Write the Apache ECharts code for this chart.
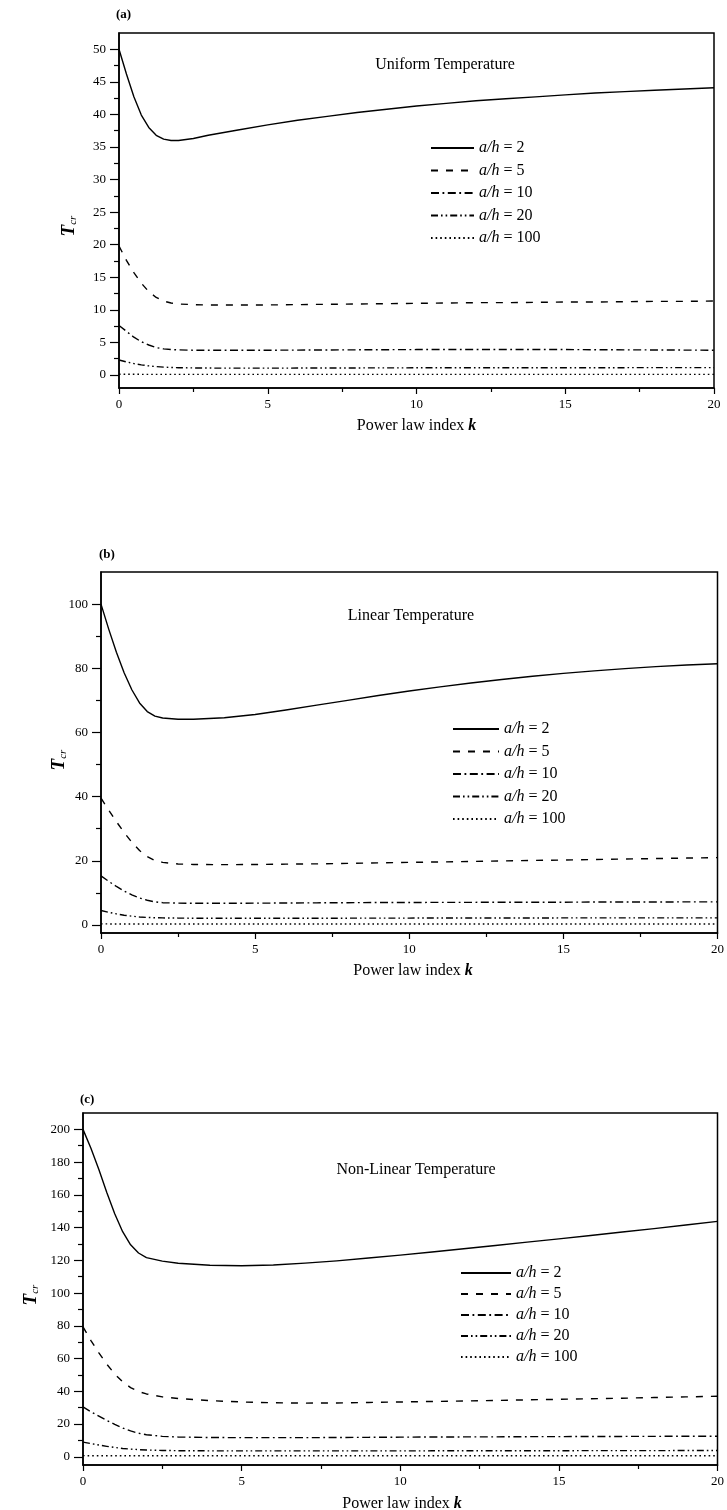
<!DOCTYPE html>
<html>
<head>
<meta charset="utf-8">
<script src="https://cdn.jsdelivr.net/npm/echarts@6/dist/echarts.min.js"></script>
<style>
html,body{margin:0;padding:0;background:#fff;}
#chart{width:727px;height:1510px;}
</style>
</head>
<body>
<div id="chart"></div>
<script>
// ---------------- DATA ----------------
const K = [0, 0.25, 0.5, 0.75, 1, 1.25, 1.5, 1.75, 2, 2.5, 3, 4, 5, 6, 7, 8, 9, 10, 11, 12, 13, 14, 15, 16, 17, 18, 19, 20];
const seriesNames = ['a/h = 2', 'a/h = 5', 'a/h = 10', 'a/h = 20', 'a/h = 100'];
const panelLabels = ['(a)', '(b)', '(c)'];
const panelTitles = ['Uniform Temperature', 'Linear Temperature', 'Non-Linear Temperature'];
const xTicks = [0, 5, 10, 15, 20];
const yTicksA = [0, 5, 10, 15, 20, 25, 30, 35, 40, 45, 50];
const yTicksB = [0, 20, 40, 60, 80, 100];
const yTicksC = [0, 20, 40, 60, 80, 100, 120, 140, 160, 180, 200];

// (a) Uniform temperature
const uni_ah2   = [50, 46.2, 42.7, 39.9, 38.0, 36.8, 36.2, 36.0, 36.0, 36.3, 36.8, 37.6, 38.4, 39.1, 39.7, 40.3, 40.8, 41.3, 41.7, 42.1, 42.4, 42.7, 43.0, 43.3, 43.5, 43.7, 43.9, 44.1];
const uni_ah5   = [19.8, 17.6, 15.7, 14.1, 12.8, 11.9, 11.35, 11.05, 10.9, 10.8, 10.75, 10.75, 10.75, 10.8, 10.85, 10.9, 10.95, 11.0, 11.05, 11.1, 11.1, 11.15, 11.2, 11.2, 11.25, 11.3, 11.3, 11.35];
const uni_ah10  = [7.6, 6.7, 5.8, 5.1, 4.6, 4.2, 4.0, 3.9, 3.85, 3.8, 3.8, 3.8, 3.8, 3.82, 3.84, 3.86, 3.88, 3.9, 3.9, 3.9, 3.9, 3.9, 3.9, 3.88, 3.86, 3.84, 3.82, 3.8];
const uni_ah20  = [2.3, 2.0, 1.75, 1.55, 1.4, 1.28, 1.2, 1.15, 1.12, 1.08, 1.06, 1.05, 1.05, 1.06, 1.07, 1.08, 1.09, 1.1, 1.1, 1.1, 1.11, 1.11, 1.12, 1.12, 1.12, 1.13, 1.13, 1.13];
const uni_ah100 = [0.12, 0.11, 0.1, 0.1, 0.09, 0.09, 0.09, 0.09, 0.09, 0.09, 0.09, 0.09, 0.09, 0.09, 0.09, 0.09, 0.09, 0.09, 0.09, 0.09, 0.09, 0.09, 0.09, 0.09, 0.09, 0.09, 0.09, 0.09];

// (b) Linear temperature
const lin_ah2   = [100, 92.2, 85.0, 78.6, 73.3, 69.2, 66.5, 65.1, 64.5, 64.1, 64.1, 64.6, 65.6, 67.0, 68.5, 70.0, 71.5, 72.9, 74.2, 75.4, 76.5, 77.5, 78.4, 79.2, 79.9, 80.5, 81.0, 81.4];
const lin_ah5   = [39.5, 35.8, 32.2, 28.8, 25.8, 23.2, 21.3, 20.1, 19.5, 19.0, 18.85, 18.8, 18.85, 18.95, 19.05, 19.2, 19.35, 19.5, 19.65, 19.8, 19.95, 20.1, 20.25, 20.4, 20.55, 20.7, 20.85, 21.0];
const lin_ah10  = [15.3, 13.6, 12.0, 10.6, 9.4, 8.4, 7.7, 7.2, 6.95, 6.8, 6.75, 6.75, 6.8, 6.85, 6.9, 6.95, 7.0, 7.0, 7.05, 7.05, 7.1, 7.1, 7.1, 7.15, 7.15, 7.15, 7.2, 7.2];
const lin_ah20  = [4.5, 3.95, 3.45, 3.05, 2.75, 2.5, 2.35, 2.25, 2.2, 2.15, 2.1, 2.1, 2.1, 2.1, 2.1, 2.12, 2.14, 2.15, 2.16, 2.17, 2.18, 2.19, 2.2, 2.2, 2.2, 2.21, 2.22, 2.22];
const lin_ah100 = [0.35, 0.33, 0.32, 0.31, 0.3, 0.3, 0.3, 0.3, 0.3, 0.3, 0.3, 0.3, 0.3, 0.3, 0.3, 0.3, 0.3, 0.3, 0.3, 0.3, 0.3, 0.3, 0.3, 0.3, 0.3, 0.3, 0.3, 0.3];

// (c) Non-linear temperature
const non_ah2   = [200, 188.5, 175.5, 161.5, 148.5, 137.5, 129.5, 124.5, 121.7, 119.5, 118.2, 117.0, 116.7, 117.2, 118.3, 119.7, 121.4, 123.2, 125.1, 127.1, 129.1, 131.1, 133.1, 135.2, 137.3, 139.4, 141.6, 143.8];
const non_ah5   = [79.4, 71.0, 63.5, 56.6, 50.6, 45.8, 42.3, 39.9, 38.4, 36.6, 35.6, 34.3, 33.5, 33.0, 32.8, 32.9, 33.2, 33.5, 33.8, 34.1, 34.4, 34.8, 35.1, 35.5, 35.8, 36.2, 36.6, 37.0];
const non_ah10  = [30.5, 27.5, 24.8, 22.2, 19.8, 17.6, 15.8, 14.4, 13.5, 12.5, 12.1, 11.8, 11.7, 11.7, 11.7, 11.8, 11.9, 12.0, 12.1, 12.15, 12.2, 12.3, 12.35, 12.4, 12.45, 12.5, 12.55, 12.6];
const non_ah20  = [9.0, 8.1, 7.2, 6.4, 5.7, 5.1, 4.7, 4.4, 4.15, 3.9, 3.75, 3.65, 3.6, 3.6, 3.6, 3.6, 3.62, 3.64, 3.66, 3.68, 3.7, 3.72, 3.74, 3.76, 3.78, 3.8, 3.82, 3.85];
const non_ah100 = [0.7, 0.68, 0.66, 0.65, 0.64, 0.63, 0.63, 0.63, 0.63, 0.63, 0.63, 0.63, 0.63, 0.63, 0.63, 0.63, 0.63, 0.63, 0.63, 0.63, 0.63, 0.63, 0.63, 0.63, 0.63, 0.63, 0.63, 0.63];

const yRanges = [[-2, 52.5, 5], [-2.5, 110, 20], [-5, 210, 20]];
const yTicks = [yTicksA, yTicksB, yTicksC];
const panelValues = [
  [uni_ah2, uni_ah5, uni_ah10, uni_ah20, uni_ah100],
  [lin_ah2, lin_ah5, lin_ah10, lin_ah20, lin_ah100],
  [non_ah2, non_ah5, non_ah10, non_ah20, non_ah100]
];

// ---------------- STYLE / LAYOUT ----------------
const SERIF = "'Liberation Serif','Times New Roman',serif";
const dashes = ['solid', [7, 8], [8, 3.5, 1.8, 3.5], [7, 3, 1.6, 3, 1.6, 3], [1.6, 3]];
const grids = [
  {left: 119, top: 33, width: 595, height: 355},
  {left: 101, top: 572, width: 624, height: 361},
  {left: 83, top: 1113, width: 638, height: 352}
];
const legendPos = [
  {left: 425, top: 135, itemWidth: 43, step: 22.5},
  {left: 447, top: 716, itemWidth: 46, step: 22.5},
  {left: 455, top: 1260, itemWidth: 50, step: 21}
];
const textPos = [
  {lab: [116, 15], title: [445, 65], tcr: [68, 226], xt: 426},
  {lab: [99, 555], title: [411, 616], tcr: [58, 760], xt: 971},
  {lab: [80, 1100], title: [416, 1170], tcr: [30, 1295], xt: 1504}
];

const chart = echarts.init(document.getElementById('chart'), null, {renderer: 'canvas'});

const axisLineStyle = {color: '#000', width: 1.5};
const tickStyle = {color: '#000', width: 1.2};

const gridOpt = [], xAxes = [], yAxes = [], series = [], legends = [], graphics = [];

for (let p = 0; p < 3; p++) {
  const g = grids[p];
  gridOpt.push({left: g.left, top: g.top, width: g.width, height: g.height, show: true, borderColor: '#000', borderWidth: 1.5, containLabel: false});
  xAxes.push({
    type: 'value', gridIndex: p, min: xTicks[0], max: xTicks[xTicks.length - 1], interval: xTicks[1] - xTicks[0],
    axisLine: {show: true, onZero: false, lineStyle: axisLineStyle},
    axisTick: {show: true, inside: false, length: 6, lineStyle: tickStyle},
    minorTick: {show: true, splitNumber: 2, length: 4, lineStyle: tickStyle},
    splitLine: {show: false},
    axisLabel: {margin: 10, fontSize: 13, color: '#000', fontFamily: SERIF}
  });
  const [ymin, ymax, step] = yRanges[p];
  yAxes.push({
    type: 'value', gridIndex: p, min: ymin, max: ymax,
    minInterval: step, maxInterval: step, splitNumber: Math.round((ymax - ymin) / step),
    axisLine: {show: true, onZero: false, lineStyle: axisLineStyle},
    axisTick: {show: true, inside: false, length: 9, lineStyle: tickStyle, customValues: yTicks[p]},
    minorTick: {show: true, splitNumber: 2, length: 5, lineStyle: tickStyle},
    splitLine: {show: false},
    axisLabel: {
      margin: 13, fontSize: 13, color: '#000', fontFamily: SERIF, customValues: yTicks[p],
      formatter: function (v) { const r = v / step; return Math.abs(r - Math.round(r)) < 1e-6 ? String(Math.round(v)) : ''; }
    }
  });
  for (let s = 0; s < 5; s++) {
    const vals = panelValues[p][s];
    series.push({
      type: 'line', name: seriesNames[s], xAxisIndex: p, yAxisIndex: p,
      data: K.map((k, j) => [k, vals[j]]),
      symbol: 'none', showSymbol: false, smooth: false,
      lineStyle: {color: '#000', width: 1.4, type: dashes[s], join: 'round', cap: 'butt'},
      itemStyle: {color: '#000'},
      silent: true, animation: false
    });
  }
  const L = legendPos[p];
  legends.push({
    orient: 'vertical', left: L.left, top: L.top,
    itemWidth: L.itemWidth, itemHeight: 16, itemGap: L.step - 16,
    selectedMode: false, data: seriesNames,
    itemStyle: {opacity: 0},
    formatter: function (name) { return name.replace('a/h', '{i|a/h}'); },
    textStyle: {
      fontSize: 16, fontFamily: SERIF, color: '#000', lineHeight: 16,
      rich: {i: {fontStyle: 'italic', fontSize: 16, fontFamily: SERIF, color: '#000', lineHeight: 16}}
    }
  });
  const T = textPos[p];
  graphics.push({
    type: 'text', x: T.lab[0], y: T.lab[1],
    style: {text: panelLabels[p], font: 'bold 13px ' + SERIF, fill: '#000', align: 'left', verticalAlign: 'middle'}
  });
  graphics.push({
    type: 'text', x: T.title[0], y: T.title[1],
    style: {text: panelTitles[p], font: '16px ' + SERIF, fill: '#000', align: 'center', verticalAlign: 'middle'}
  });
  graphics.push({
    type: 'text', x: T.tcr[0], y: T.tcr[1], rotation: Math.PI / 2,
    style: {
      text: '{t|T}{s|cr}', align: 'center', verticalAlign: 'middle',
      rich: {
        t: {fontSize: 19, fontWeight: 'bold', fontStyle: 'italic', fontFamily: SERIF, fill: '#000', lineHeight: 22, verticalAlign: 'bottom'},
        s: {fontSize: 11, fontStyle: 'italic', fontFamily: SERIF, fill: '#000', lineHeight: 22, verticalAlign: 'bottom', padding: [8, 0, 0, 0]}
      }
    }
  });
  graphics.push({
    type: 'text', x: g.left + g.width / 2, y: T.xt,
    style: {
      text: '{n|Power law index }{k|k}', align: 'center', verticalAlign: 'middle',
      rich: {
        n: {fontSize: 16, fontFamily: SERIF, fill: '#000'},
        k: {fontSize: 16, fontFamily: SERIF, fontWeight: 'bold', fontStyle: 'italic', fill: '#000'}
      }
    }
  });
}

chart.setOption({
  backgroundColor: '#fff',
  animation: false,
  grid: gridOpt,
  xAxis: xAxes,
  yAxis: yAxes,
  legend: legends,
  series: series,
  graphic: graphics
});
</script>
</body>
</html>
